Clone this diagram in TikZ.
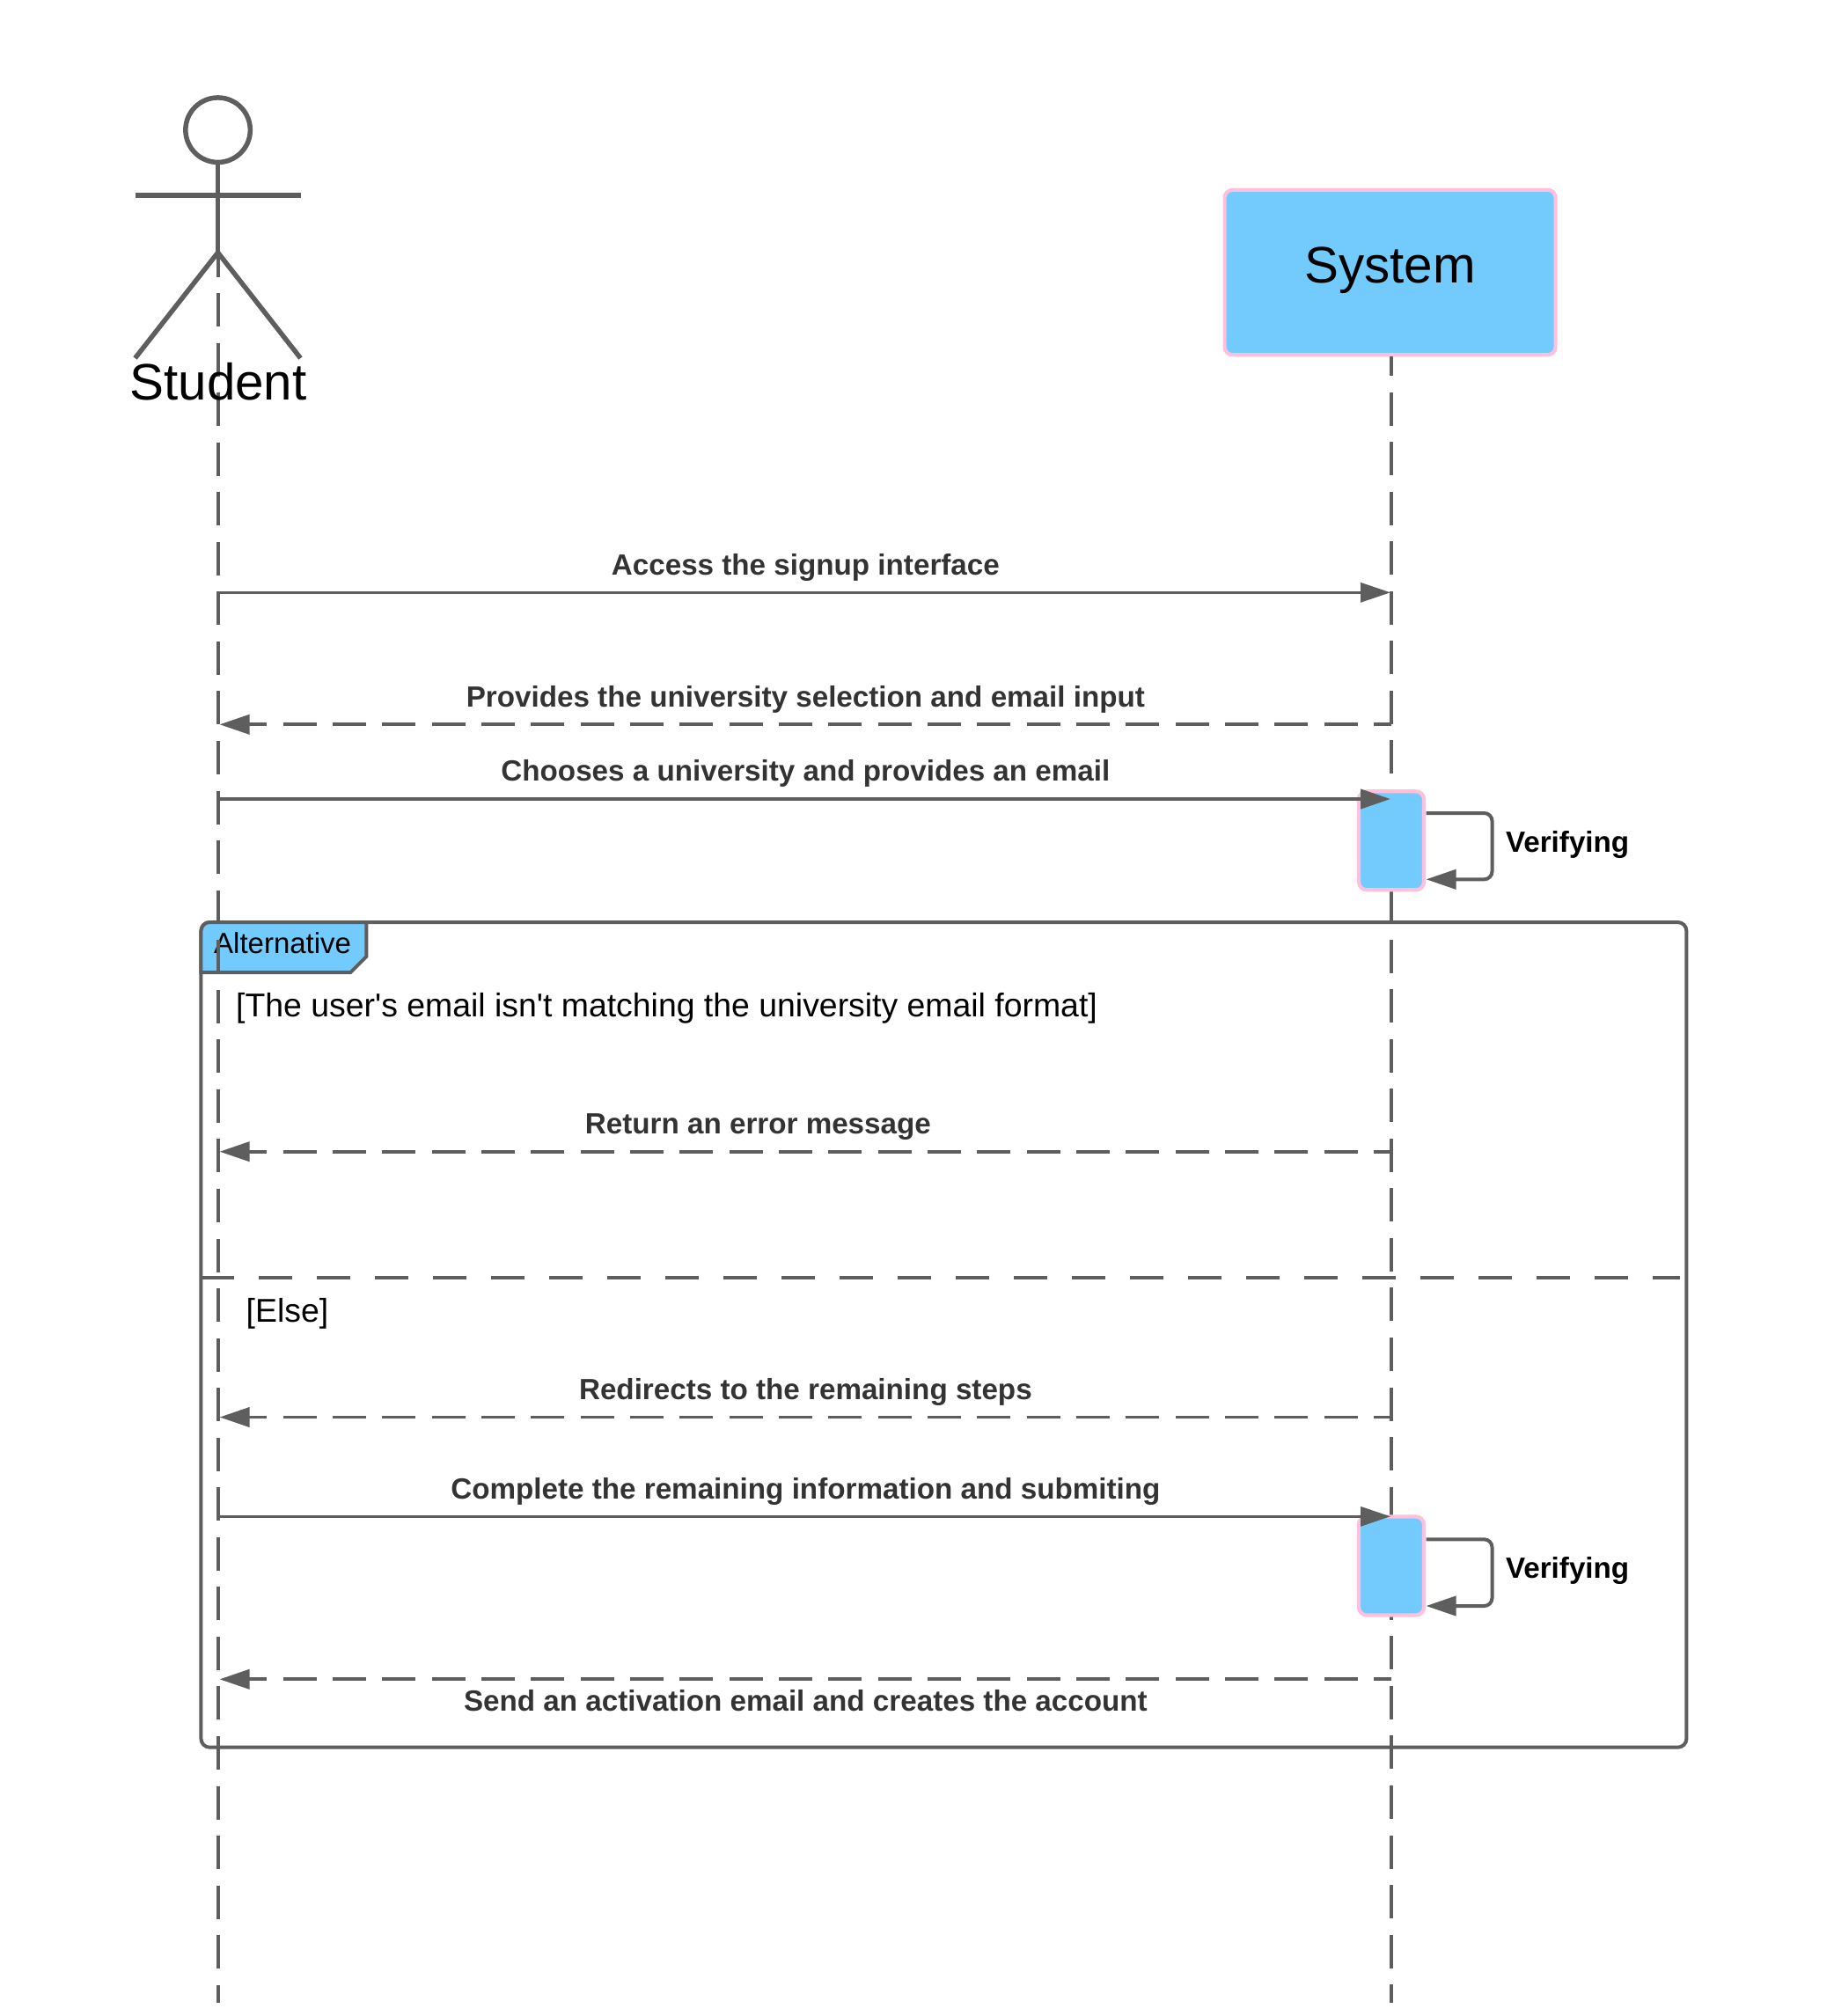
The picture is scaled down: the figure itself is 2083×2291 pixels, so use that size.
\documentclass[tikz,border=0pt]{standalone}
\usepackage{fontspec}
\setmainfont{Liberation Sans}
\usetikzlibrary{arrows.meta}

\definecolor{linegrey}{HTML}{5E5E5E}
\definecolor{boxblue}{HTML}{73CAFC}
\definecolor{boxpink}{HTML}{FFC0DD}

\tikzset{
	lifeline/.style={color=linegrey, line width=4pt, dash pattern=on 38pt off 18.55pt},
	actorline/.style={color=linegrey, line width=5.5pt},
	actorname/.style={font=\fontsize{58.3}{58}\selectfont, inner sep=0pt, anchor=base},
	objbox/.style={draw=boxpink, fill=boxblue, line width=4.2pt, rounded corners=9pt, inner sep=0pt},
	msg/.style={color=linegrey, line width=3.3pt, -{Triangle[length=34pt,width=22pt]}, shorten >=1pt},
	reply/.style={msg, line width=3.8pt, shorten >=2pt, dash pattern=on 38pt off 18.33pt, dash phase=18pt},
	selfmsg/.style={msg, line width=4pt, shorten >=0pt, rounded corners=9pt},
	msglabel/.style={font=\fontsize{33.2}{33}\selectfont\bfseries, text=black!80, inner sep=0pt, anchor=base},
	selflabel/.style={font=\fontsize{33.2}{33}\selectfont\bfseries, inner sep=0pt, anchor=base west},
	guard/.style={font=\fontsize{37.4}{37}\selectfont, inner sep=0pt, anchor=base west}
}

\begin{document}
\begin{tikzpicture}[x=1pt, y=-1pt]
	\useasboundingbox (0,0) rectangle (2083,2291);

	% Alternative frame and its tab
	\node [draw=linegrey, line width=4pt, rounded corners=10pt, minimum width=1688pt, minimum height=937.7pt, inner sep=0pt]
		(altframe) at (1072.4,1516.85) {};
	\draw [draw=linegrey, fill=boxblue, line width=4pt]
		(228.4,1105) [rounded corners=10pt] -- (228.4,1048) [sharp corners] -- (416.4,1048) -- (416.4,1087) -- (398.4,1105) -- cycle;
	\node [inner sep=0pt, anchor=base west, font=\fontsize{33}{33}\selectfont] (alttab) at (243,1083) {Alternative};
	\node [guard] (guardone) at (268,1155) {[The user\textquotesingle s email isn\textquotesingle t matching the university email format]};
	\node [guard] (guardtwo) at (279.5,1502) {[Else]};

	% Else divider
	\coordinate (elsel) at (228.4,1451.7);
	\coordinate (elser) at (1909,1451.7);
	\draw [color=linegrey, line width=3.8pt, dash pattern=on 38pt off 28pt] (elsel) -- (elser);

	% Student
	\node [draw=linegrey, line width=5.5pt, circle, minimum size=73.5pt, inner sep=0pt] (head) at (247.6,147.7) {};
	\coordinate (hip) at (247.6,287);
	\coordinate (armleft) at (153.5,222);
	\coordinate (armright) at (341.5,222);
	\coordinate (footleft) at (153.5,407);
	\coordinate (footright) at (341.5,407);
	\draw [actorline] (head) -- (hip);
	\draw [actorline] (armleft) -- (armright);
	\draw [actorline] (footleft) -- (hip) -- (footright);

	% Lifelines
	\coordinate (studentend) at (247.5,2276);
	\coordinate (systemend) at (1581,2276);
	\coordinate (studenttop) at (247.5,287);
	\coordinate (systemtop) at (1581,405);
	\draw [lifeline, dash phase=10.5pt] (studenttop) -- (studentend);
	\node [actorname] (student) at (248,454) {Student};

	\node [objbox, minimum width=376pt, minimum height=187.5pt, text height=30pt, text depth=5.6pt, font=\fontsize{58.3}{58}\selectfont] (system) at (1579.6,309.5) {System};
	\draw [lifeline, dash phase=16pt] (systemtop) -- (systemend);

	% Activations
	\node [objbox, minimum width=74pt, minimum height=112pt] (verifyone) at (1581,955.3) {};
	\node [objbox, minimum width=74pt, minimum height=112pt] (verifytwo) at (1581,1779.5) {};

	% Message ends
	\foreach \name/\ypos in {access/673.3, provides/823.3, chooses/908, error/1308.7, redirect/1610.5, complete/1723.3, send/1908.3}{
		\coordinate (\name s) at (247.5,\ypos);
		\coordinate (\name y) at (1581,\ypos);
	}

	% Top paths
	\draw [msg] (accesss) -- (accessy);
	\draw [reply] (providesy) -- (providess);
	\draw [msg, line width=4pt] (choosess) -- (choosesy);
	\node [msglabel] (accesslabel) at (915.4,653.2) {Access the signup interface};
	\node [msglabel] (provideslabel) at (915.4,803.2) {Provides the university selection and email input};
	\node [msglabel] (chooseslabel) at (915.4,887.7) {Chooses a university and provides an email};

	% Paths inside the frame
	\draw [reply] (errory) -- (errors);
	\draw [reply] (redirecty) -- (redirects);
	\draw [msg] (completes) -- (completey);
	\draw [reply] (sendy) -- (sends);
	\node [msglabel] (errorlabel) at (861.4,1288.9) {Return an error message};
	\node [msglabel] (redirectlabel) at (915.4,1590.4) {Redirects to the remaining steps};
	\node [msglabel] (completelabel) at (915.4,1703.2) {Complete the remaining information and submiting};
	\node [msglabel] (sendlabel) at (915.4,1944) {Send an activation email and creates the account};

	% Self loops
	\coordinate (loopa) at (1620.5,924);
	\coordinate (loopb) at (1620.5,999.3);
	\coordinate (loopc) at (1620.5,1749.3);
	\coordinate (loopd) at (1620.5,1825);
	\draw [selfmsg] (loopa) -- (1695.5,924) -- (1695.5,999.3) -- (loopb);
	\draw [selfmsg] (loopc) -- (1695.5,1749.3) -- (1695.5,1825) -- (loopd);
	\node [selflabel] (verifylabelone) at (1710.8,968.4) {Verifying};
	\node [selflabel] (verifylabeltwo) at (1710.8,1793.4) {Verifying};
\end{tikzpicture}
\end{document}
